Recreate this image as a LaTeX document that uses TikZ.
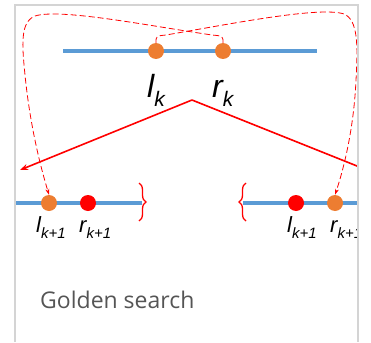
\documentclass[tikz,border=0pt]{standalone}
\usepackage{fontspec}
\setmainfont{Liberation Sans}
\newfontfamily\captionfont{Open Sans}
\usetikzlibrary{arrows.meta,decorations.pathreplacing}
\definecolor{lineblue}{HTML}{5B9BD5}
\definecolor{dotorange}{HTML}{ED7D31}
\definecolor{framegray}{HTML}{D4D4D4}
\definecolor{textgray}{HTML}{555555}
\tikzset{
  interval/.style={draw=lineblue, line width=4pt},
  olddot/.style={circle, fill=dotorange, inner sep=0pt, minimum size=16pt},
  newdot/.style={circle, fill=red, inner sep=0pt, minimum size=16pt},
  bigvar/.style={anchor=base west, inner sep=0pt, font=\fontsize{32}{32}\selectfont\itshape},
  smallvar/.style={anchor=base west, inner sep=0pt, font=\fontsize{22}{22}\selectfont\itshape},
  split/.style={draw=red, line width=1.6pt},
  reuse/.style={draw=red, line width=0.8pt, dash pattern=on 6pt off 3pt, -{Stealth[length=6pt,width=4pt]}},
  bracket/.style={draw=red, line width=1.3pt, decorate, decoration={brace, amplitude=7pt}}
}
\newcommand{\idx}[2]{#1\raisebox{-0.3em}{\fontsize{#2}{#2}\selectfont k}}
\newcommand{\idxnext}[1]{#1\raisebox{-0.3em}{\fontsize{15}{15}\selectfont k+1}}
\begin{document}
\begin{tikzpicture}[x=1pt,y=-1pt]
    \useasboundingbox (0,0) rectangle (371,342);
    \begin{scope}
    \clip (15,5) rectangle (358,342);
    % current interval
    \draw[interval] (63,51) -- (317,51);
    \node[olddot] (lk) at (156,51) {};
    \node[olddot] (rk) at (223,51) {};
    \node[bigvar] (lklabel) at (147,97) {\idx{l}{21}};
    \node[bigvar] (rklabel) at (212,97) {\idx{r}{21}};

    % split into two cases
    \coordinate (apex) at (192,100);
    \coordinate (leftend) at (20,170);
    \coordinate (rightend) at (362,168);
    \draw[split, -{Stealth[length=8pt,width=6pt]}] (apex) -- (leftend);
    \draw[split] (apex) -- (rightend);

    % left case
    \draw[interval] (10,203) -- (142,203);
    \node[olddot] (nl) at (49,203) {};
    \node[newdot] (nr) at (88,203) {};
    \node[smallvar] at (36,232) {\idxnext{l}};
    \node[smallvar] at (79,232) {\idxnext{r}};
    \draw[bracket] (139,183) -- (139,221);

    % right case
    \draw[interval] (243,203) -- (370,203);
    \node[newdot] (ml) at (296,203) {};
    \node[olddot] (mr) at (335,203) {};
    \node[smallvar] at (287,232) {\idxnext{l}};
    \node[smallvar] at (330,232) {\idxnext{r}};
    \draw[bracket] (246,221) -- (246,183);

    % reused points
    \draw[reuse] (rk.north) .. controls (223,36) .. (212,35)
        .. controls (150,26) and (60,8) .. (35,16)
        .. controls (20,22) and (22,45) .. (25,75)
        .. controls (30,125) and (40,165) .. (nl.north);
    \draw[reuse] (lk.north) .. controls (156,36) .. (166,35)
        .. controls (230,24) and (320,6) .. (344,14)
        .. controls (358,20) and (358,45) .. (356,80)
        .. controls (354,125) and (345,165) .. (mr.north);
    \end{scope}

    % frame
    \draw[framegray, line width=1.8pt] (15,342) -- (15,5) -- (358,5) -- (358,342);
    \node[anchor=base west, inner sep=0pt, text=textgray, font=\captionfont\fontsize{23}{23}\selectfont] (caption) at (40,308) {Golden search};
\end{tikzpicture}
\end{document}
